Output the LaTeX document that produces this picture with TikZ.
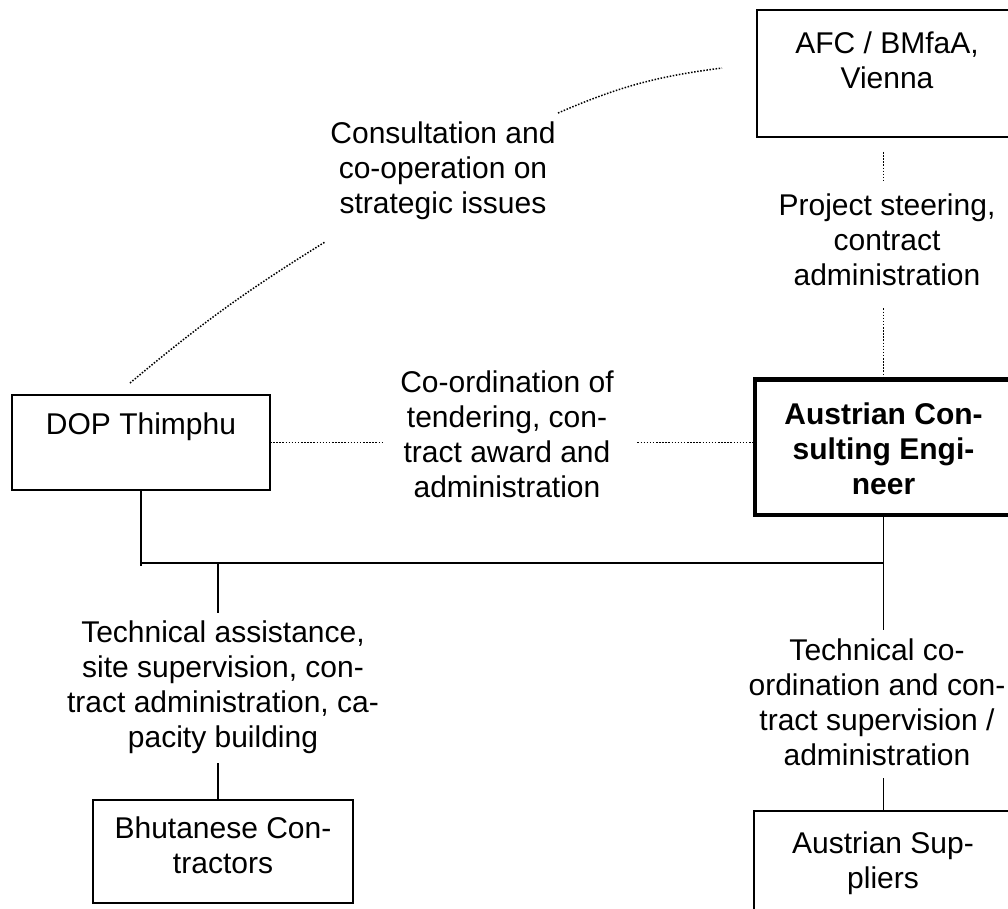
\documentclass[tikz,border=0pt]{standalone}
\usepackage{fontspec}
\setmainfont{Liberation Sans}

\begin{document}
\begin{tikzpicture}[x=1pt,y=-1pt,font=\fontsize{30}{35}\selectfont,
  box/.style={draw,line width=1.8pt,inner sep=0pt,outer sep=0pt,anchor=north,align=center},
  lead/.style={box,line width=4.5pt,font=\fontsize{30}{35}\selectfont\bfseries},
  note/.style={inner sep=0pt,anchor=north,align=center},
  link/.style={line width=1.5pt,dash pattern=on 1.5pt off 1.6pt},
  wire/.style={line width=1.7pt},
]
\useasboundingbox (0,0) rectangle (1008,908);
\clip (0,0) rectangle (1008,908);

\node[box,minimum width=260pt,text height=78pt,text depth=49pt] (afc) at (887,10) {AFC / BMfaA,\\Vienna};
\node[box,minimum width=258pt,text height=39pt,text depth=56pt] (dop) at (141,395) {DOP Thimphu};
\node[lead,minimum width=257pt,text height=114.5pt,text depth=21pt] (ace) at (883.5,379.5) {Austrian Con-\\sulting Engi-\\neer};
\node[box,minimum width=260pt,text height=73pt,text depth=30pt] (bhu) at (223,800) {Bhutanese Con-\\tractors};
\node[box,minimum width=258pt,text height=77pt,text depth=62pt] (sup) at (883,811) {Austrian Sup-\\pliers};

\node[note] (consult) at (443,122) {Consultation and\\co-operation on\\strategic issues};
\node[note] (steer) at (887,194) {Project steering,\\contract\\administration};
\node[note] (coord) at (507,371) {Co-ordination of\\tendering, con-\\tract award and\\administration};
\node[note] (tassist) at (223,621) {Technical assistance,\\site supervision, con-\\tract administration, ca-\\pacity building};
\node[note] (tcoord) at (877,639) {Technical co-\\ordination and con-\\tract supervision /\\administration};

\coordinate (c1) at ([shift={(-11,-12)}]dop.north);
\coordinate (c2) at ([shift={(-118,120)}]consult.north);
\coordinate (c3) at ([shift={(115,-9)}]consult.north);
\coordinate (c4) at ([shift={(-35,-5.5)}]afc.west);
\coordinate (jl) at ([yshift=-73pt]dop.south);
\coordinate (jb) at ([xshift=77pt]jl);

\draw[link] (c1) to[bend left=4] (c2);
\draw[link] (c3) to[bend left=8] (c4);
\draw[link,shorten <=15pt,shorten >=14pt] (afc.south -| ace.north) -- (steer.north -| ace.north);
\draw[link,shorten <=22pt] (steer.south -| ace.north) -- (ace.north);
\draw[link,shorten >=17.5pt] (dop.east) -- (coord.west |- dop.east);
\draw[link,shorten <=23.5pt] (coord.east |- dop.east) -- (ace.west |- dop.east);

\draw[wire] (dop.south) -- ([yshift=-3pt]jl);
\draw[wire] (jl) -- (jl -| ace.south);
\draw[wire,shorten >=8pt] (jb) -- (jb |- tassist.north);
\draw[wire,shorten <=9pt] (jb |- tassist.south) -- (jb |- bhu.north);
\draw[wire,shorten >=9pt] (ace.south) -- (ace.south |- tcoord.north);
\draw[wire,shorten <=12pt] (ace.south |- tcoord.south) -- (ace.south |- sup.north);

\end{tikzpicture}
\end{document}
